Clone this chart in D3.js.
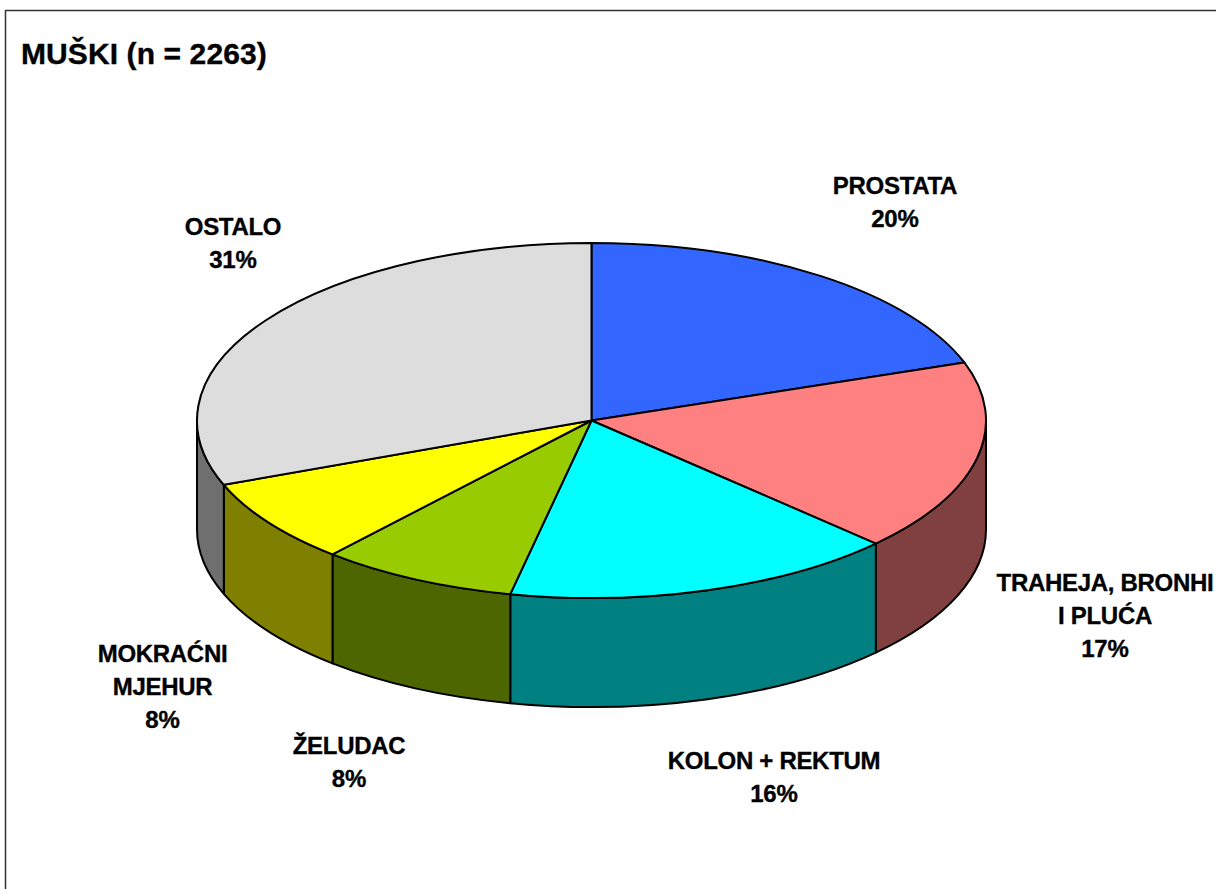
<!DOCTYPE html>
<html><head><meta charset="utf-8">
<script src="https://cdnjs.cloudflare.com/ajax/libs/d3/7.8.5/d3.min.js"></script>
<style>html,body{margin:0;padding:0;background:#fff;overflow:hidden}svg{display:block}
text{font-family:"Liberation Sans",Arial,sans-serif;font-weight:bold;fill:#000;stroke:#000;stroke-width:.35}</style>
</head><body><svg id="c" width="1216" height="889"></svg>
<script>
const title = "MUŠKI (n = 2263)";
const categories = ["PROSTATA","TRAHEJA, BRONHI|I PLUĆA","KOLON + REKTUM","ŽELUDAC","MOKRAĆNI|MJEHUR","OSTALO"];
const values = [19.7,17.49,16.11,8.1,7.7,30.9];
const percentLabels = ["20%","17%","16%","8%","8%","31%"];
const topColors = ["#3366FF","#FF8080","#00FFFF","#99CC00","#FFFF00","#DDDDDD"];
const sideColors = ["#1A3380","#804040","#008080","#4D6600","#808000","#6F6F6F"];
const labelAnchors = [[895,194],[1105,591],[774,769],[349,754],[162.5,662],[233,235]];

const cx=591.5, cy=420.5, rx=394.5, ry=177.5, depth=109;
const svg=d3.select("#c");
svg.append("rect").attr("x",5.5).attr("y",10.5).attr("width",1300).attr("height",1000)
  .attr("fill","#fff").attr("stroke","#333").attr("stroke-width",1.5);

const pie=d3.pie().sort(null).value(d=>d)(values);
const px=a=>cx+rx*Math.sin(a), py=a=>cy-ry*Math.cos(a);
const ell=(a0,a1,y0,rev)=>{
  const large=Math.abs(a1-a0)>Math.PI?1:0;
  return `A${rx},${ry} 0 ${large} ${rev?0:1} ${px(a1)},${py(a1)+y0}`;
};
const sideG=svg.append("g");
pie.forEach((d,i)=>{
  const a0=Math.max(d.startAngle,Math.PI/2), a1=Math.min(d.endAngle,3*Math.PI/2);
  if(a1<=a0) return;
  const p=`M${px(a0)},${py(a0)}`+ell(a0,a1,0,false)+`L${px(a1)},${py(a1)+depth}`+ell(a1,a0,depth,true)+"Z";
  sideG.append("path").attr("d",p).attr("fill",sideColors[i]).attr("stroke","#000").attr("stroke-width",2).attr("stroke-linejoin","round");
});
const topG=svg.append("g");
pie.forEach((d,i)=>{
  const p=`M${cx},${cy}L${px(d.startAngle)},${py(d.startAngle)}`+ell(d.startAngle,d.endAngle,0,false)+"Z";
  topG.append("path").attr("d",p).attr("fill",topColors[i]).attr("stroke","#000").attr("stroke-width",2).attr("stroke-linejoin","round");
});
svg.append("text").attr("x",21).attr("y",64).attr("font-size",30).attr("letter-spacing",0.1).text(title);
const lh=33;
categories.forEach((c,i)=>{
  const names=c.split("|");
  names.concat(percentLabels[i]).forEach((t,j)=>{
    svg.append("text").attr("x",labelAnchors[i][0]).attr("y",labelAnchors[i][1]+j*lh)
      .attr("text-anchor","middle").attr("font-size",24).attr("letter-spacing",j<names.length?-0.3:-0.1).text(t);
  });
});
</script></body></html>
